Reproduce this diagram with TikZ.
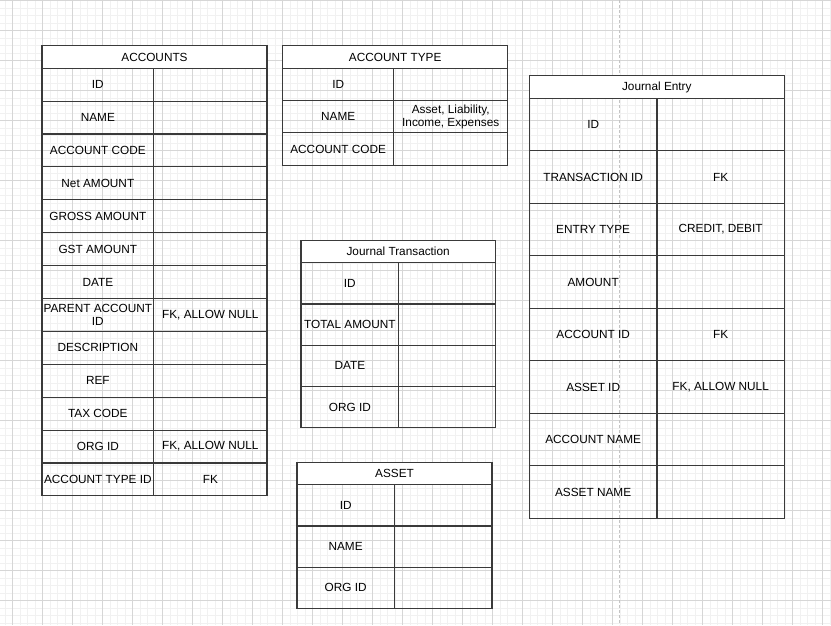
\documentclass[tikz,border=0pt]{standalone}
\usepackage{fontspec}
\setmainfont{Liberation Sans}
\usetikzlibrary{positioning}

\definecolor{gridminor}{HTML}{F1F1F1}
\definecolor{gridmajor}{HTML}{D6D6D6}
\definecolor{pagebreak}{HTML}{C4C4C4}
\definecolor{tblline}{HTML}{3A3A3A}

% one table: name, title, top left, key width, value width, row height, fields
\newcommand{\dbtable}[7]{%
	\begin{scope}[shift={#3}]
		\pgfmathsetmacro{\tw}{#4+#5}
		\node[tblhead, minimum width=\tw] (#1) at (0,0) {#2};
		\foreach \fld/\val [count=\i] in {#7} {
			\node[tblcell, minimum width=#4, minimum height=#6] (#1-k\i) at (0,{22.5+(\i-1)*#6}) {\fld};
			\node[tblcell, minimum width=#5, minimum height=#6, right=0pt of #1-k\i] (#1-v\i) {\val};
			\draw[tblrule] (#1-k\i.north west) -- (#1-k\i.south west) -- (#1-v\i.south east) -- (#1-v\i.north east);
			\draw[tblrule] (#1-k\i.north east) -- (#1-k\i.south east);
		}
	\end{scope}}

\begin{document}
\begin{tikzpicture}[x=1pt, y=-1pt,
	every node/.style={font=\fontsize{11.8}{13.3}\selectfont, text=black},
	tblrule/.style={draw=tblline, line width=1.1pt},
	tblhead/.style={tblrule, fill=white, inner sep=0pt, outer sep=0pt,
		minimum height=22.5, anchor=north west},
	tblcell/.style={inner sep=0pt, outer sep=0pt, align=center, anchor=north west}]

	\useasboundingbox[fill=white] (0,0) rectangle (831,625);

	% background grid
	\foreach \gx in {5,12.5,...,831} \draw[gridminor, line width=0.9pt] (\gx,0) -- (\gx,625);
	\foreach \gy in {0.5,8,...,625} \draw[gridminor, line width=0.9pt] (0,\gy) -- (831,\gy);
	\foreach \gx in {12.5,42.5,...,831} \draw[gridmajor, line width=0.9pt] (\gx,0) -- (\gx,625);
	\foreach \gy in {0.5,30.5,...,625} \draw[gridmajor, line width=0.9pt] (0,\gy) -- (831,\gy);
	\draw[pagebreak, line width=1pt, dash pattern=on 3pt off 2pt] (619.7,0) -- (619.7,625);

	\dbtable{accounts}{ACCOUNTS}{(42,45.7)}{111.7}{113.3}{32.9}{
		ID/{}, NAME/{}, ACCOUNT CODE/{}, Net AMOUNT/{}, GROSS AMOUNT/{}, GST AMOUNT/{},
		DATE/{}, {PARENT ACCOUNT\\ID}/{FK, ALLOW NULL}, DESCRIPTION/{}, REF/{},
		TAX CODE/{}, ORG ID/{FK, ALLOW NULL}, ACCOUNT TYPE ID/FK}

	\dbtable{acctype}{ACCOUNT TYPE}{(282.7,45.8)}{111}{114}{32.3}{
		ID/{}, NAME/{Asset, Liability,\\Income, Expenses}, ACCOUNT CODE/{}}

	\dbtable{jentry}{Journal Entry}{(529.3,75.7)}{127.7}{127.3}{52.5}{
		ID/{}, TRANSACTION ID/FK, ENTRY TYPE/{CREDIT, DEBIT}, AMOUNT/{},
		ACCOUNT ID/FK, ASSET ID/{FK, ALLOW NULL}, ACCOUNT NAME/{}, ASSET NAME/{}}

	\dbtable{jtrans}{Journal Transaction}{(301,240.3)}{97.7}{96.6}{41.2}{
		ID/{}, TOTAL AMOUNT/{}, DATE/{}, ORG ID/{}}

	\dbtable{asset}{ASSET}{(297,462.3)}{97.3}{97.7}{41.2}{
		ID/{}, NAME/{}, ORG ID/{}}
\end{tikzpicture}
\end{document}
